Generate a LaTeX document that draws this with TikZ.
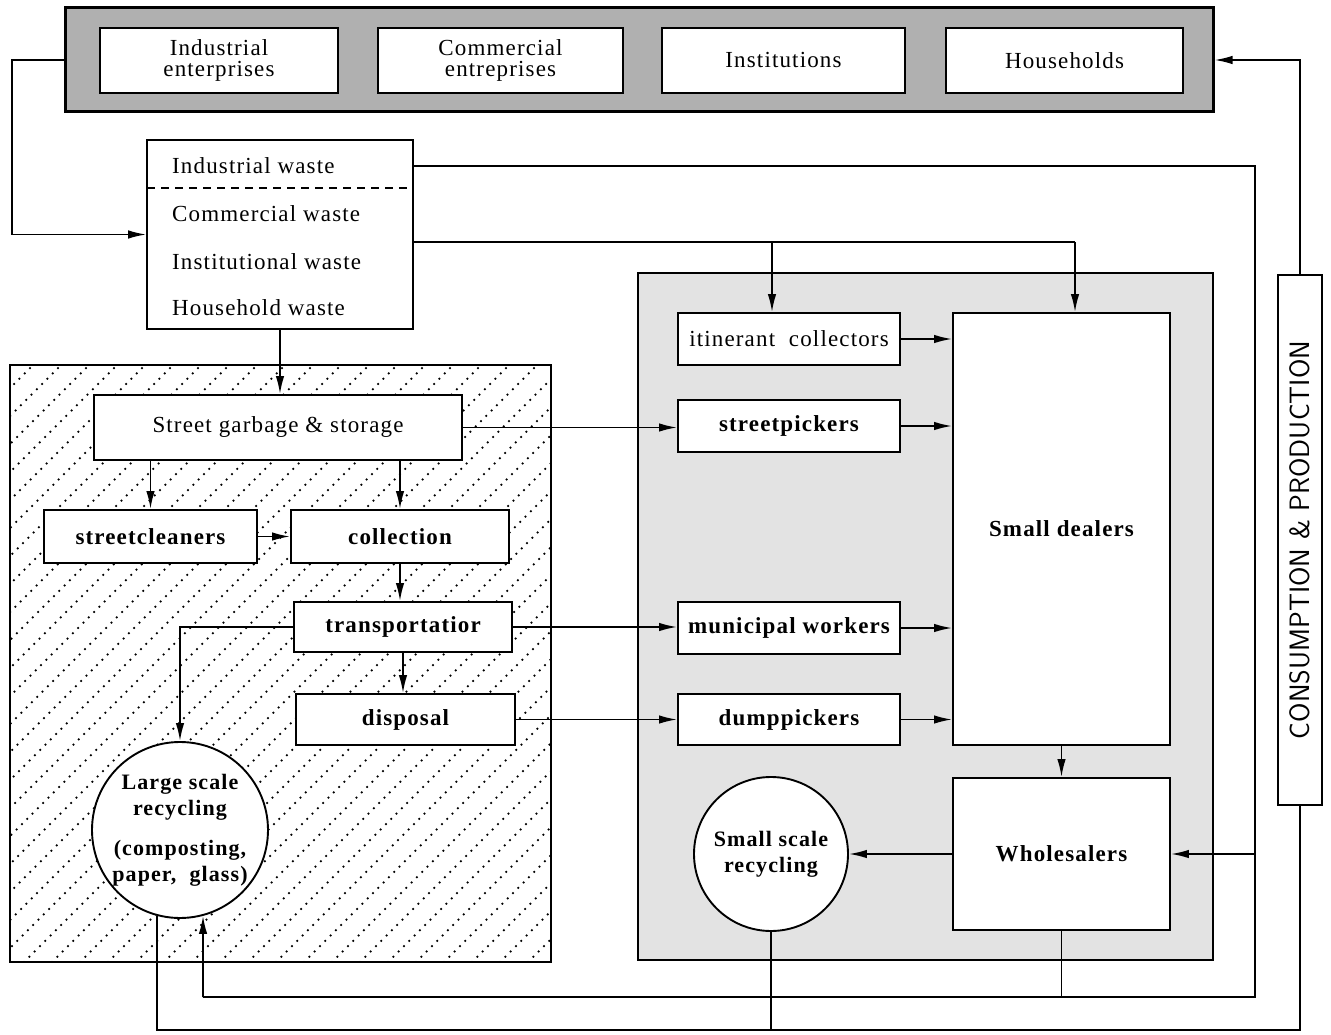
\documentclass[tikz,border=0pt]{standalone}
\usepackage{fontspec}
\setmainfont{Liberation Serif}[LetterSpace=5]
\usetikzlibrary{arrows.meta}
\begin{document}
\begin{tikzpicture}[x=1pt,y=-1pt,
 box/.style={draw, fill=white, line width=1.9pt, inner sep=2pt, align=center, font=\fontsize{23}{21}\selectfont},
 bbox/.style={box, font=\fontsize{23}{21}\selectfont\bfseries},
 circ/.style={draw, fill=white, circle, line width=1.9pt, inner sep=0pt, align=center, font=\fontsize{22}{26}\selectfont\bfseries},
 wtxt/.style={anchor=west, inner sep=0pt, font=\fontsize{23}{22}\selectfont},
 arr/.style={line width=1.7pt, -{Latex[length=18pt,width=8.5pt]}},
 ln/.style={line width=1.7pt},
 hatch/.style={line width=2.5pt, line cap=round, dash pattern=on 0pt off 7.5pt}]
\useasboundingbox (0,0) rectangle (1331,1035);
\fill[white] (0,0) rectangle (1331,1035);

% ---- regions ----
\begin{scope}
\clip (10,365) rectangle (551,962);
\foreach \k in {-620,-592,...,570} \draw[hatch] (\k,962) -- ++(620,-620);
\end{scope}
\draw[line width=1.9pt] (10,365) rectangle (551,962);
\fill[gray!22] (638,273) rectangle (1213,960);
\draw[line width=1.9pt] (638,273) rectangle (1213,960);

% ---- top band ----
\node[draw, fill=gray!62, line width=3pt, minimum width=1148pt, minimum height=104pt, inner sep=0pt] (band) at (639,60) {};
\node[box, minimum width=238pt, minimum height=65pt] (ind) at (219,60.5) {Industrial\\enterprises};
\node[box, minimum width=245pt, minimum height=65pt] (com) at (500.5,60.5) {Commercial\\entreprises};
\node[box, minimum width=243pt, minimum height=65pt] (inst) at (783.5,60.5) {Institutions};
\node[box, minimum width=237pt, minimum height=65pt] (hh) at (1064.5,60.5) {Households};

% ---- waste box ----
\node[draw, fill=white, line width=1.6pt, minimum width=266pt, minimum height=189pt, inner sep=0pt] (waste) at (280,234.5) {};
\draw[line width=1.6pt, dash pattern=on 8pt off 6pt] (147,188) -- (413,188);
\node[wtxt] (w1) at (172,166) {Industrial waste};
\node[wtxt] (w2) at (172,214) {Commercial waste};
\node[wtxt] (w3) at (172,262) {Institutional waste};
\node[wtxt] (w4) at (172,308) {Household waste};

% ---- left nodes ----
\node[box, minimum width=368pt, minimum height=65pt] (sg) at (278,427.5) {Street garbage \& storage};
\node[bbox, minimum width=213pt, minimum height=53pt] (sc) at (150.5,536.5) {streetcleaners};
\node[bbox, minimum width=218pt, minimum height=53pt] (col) at (400,536.5) {collection};
\node[bbox, minimum width=218pt, minimum height=50pt] (tr) at (403,627) {transportatior};
\node[bbox, minimum width=219pt, minimum height=51pt] (dis) at (405.5,719.5) {disposal};
\node[circ, minimum size=176pt] (lsr) at (180,830) {Large scale\\recycling\\[14pt](composting,\\paper,\ \ glass)};

% ---- right nodes ----
\node[box, minimum width=222pt, minimum height=52pt] (ic) at (789,339) {itinerant\ \ collectors};
\node[bbox, minimum width=222pt, minimum height=52pt] (sp) at (789,426) {streetpickers};
\node[bbox, minimum width=222pt, minimum height=52pt] (mw) at (789,628) {municipal workers};
\node[bbox, minimum width=222pt, minimum height=51pt] (dp) at (789,719.5) {dumppickers};
\node[bbox, minimum width=217pt, minimum height=432pt] (sd) at (1061.5,529) {Small dealers};
\node[bbox, minimum width=217pt, minimum height=152pt] (ws) at (1061.5,854) {Wholesalers};
\node[circ, minimum size=154pt] (ssr) at (771,854) {Small scale\\recycling};

% ---- consumption & production ----
\node[draw, fill=white, line width=1.9pt, minimum width=44pt, minimum height=530pt, inner sep=0pt] (cp) at (1300,540) {};
\node[rotate=90, font=\fontsize{28}{30}\selectfont\sffamily] (cpt) at (cp.center) {CONSUMPTION \& PRODUCTION};

% ---- coordinates ----
\coordinate (lc) at (12,150);
\coordinate (r1) at (1255,166);
\coordinate (r2) at (1255,997);
\coordinate (b1) at (203,997);
\coordinate (r3) at (1075,242);
\coordinate (r4) at (772,242);
\coordinate (b2) at (1300,1030);
\coordinate (b3) at (157,1030);

% ---- connectors ----
\draw[arr] (band.west) -| (lc) |- (waste.west);
\draw[arr] (cp.north) |- (band.east);
\draw[ln] (waste.east |- r1) -- (r1) -- (r2) -- (b1);
\draw[arr] (b1) -- (lsr.-75);
\draw[arr] (r1 |- ws.east) -- (ws.east);
\draw[ln] (ws.south) -- (ws.south |- r2);
\draw[ln] (waste.east |- r3) -- (r3);
\draw[arr] (r3) -- (r3 |- sd.north);
\draw[arr] (r4) -- (r4 |- ic.north);
\draw[arr] (waste.south) -- (waste.south |- sg.north);
\draw[arr] (sc.north |- sg.south) -- (sc.north);
\draw[arr] (col.north |- sg.south) -- (col.north);
\draw[arr] (sc.east) -- (col.west);
\draw[arr] (col.south) -- (col.south |- tr.north);
\draw[arr] (tr.south) -- (tr.south |- dis.north);
\draw[arr] (tr.west) -| (lsr.north);
\draw[arr] (sg.east) -- (sg.east -| sp.west);
\draw[arr] (tr.east) -- (tr.east -| mw.west);
\draw[arr] (dis.east) -- (dis.east -| dp.west);
\draw[arr] (ic.east) -- (ic.east -| sd.west);
\draw[arr] (sp.east) -- (sp.east -| sd.west);
\draw[arr] (mw.east) -- (mw.east -| sd.west);
\draw[arr] (dp.east) -- (dp.east -| sd.west);
\draw[arr] (sd.south) -- (ws.north);
\draw[arr] (ws.west) -- (ssr.east);
\draw[ln] (cp.south) -- (b2) -- (b3) -- (lsr.-105);
\draw[ln] (ssr.south) -- (ssr.south |- b2);
\end{tikzpicture}
\end{document}
